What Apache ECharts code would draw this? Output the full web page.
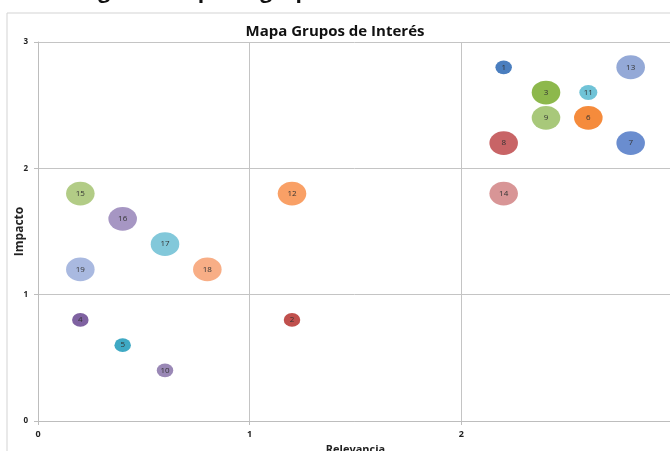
<!DOCTYPE html>
<html>
<head>
<meta charset="utf-8">
<script src="https://cdn.jsdelivr.net/npm/echarts@6/dist/echarts.min.js"></script>
<style>
  html, body { margin: 0; padding: 0; background: #fff; }
  #chart { width: 670px; height: 451px; }
</style>
</head>
<body>
<div id="chart"></div>
<script>
// grupos de interés: id, relevancia (x), impacto (y), tamaño de burbuja
var ids        = [1, 2, 3, 4, 5, 6, 7, 8, 9, 10, 11, 12, 13, 14, 15, 16, 17, 18, 19];
var relevancia = [2.2, 1.2, 2.4, 0.2, 0.4, 2.6, 2.8, 2.2, 2.4, 0.6, 2.6, 1.2, 2.8, 2.2, 0.2, 0.4, 0.6, 0.8, 0.2];
var impacto    = [2.8, 0.8, 2.6, 0.8, 0.6, 2.4, 2.2, 2.2, 2.4, 0.4, 2.6, 1.8, 2.8, 1.8, 1.8, 1.6, 1.4, 1.2, 1.2];
var tamano     = [1, 1, 3, 1, 1, 3, 3, 3, 3, 1, 1.2, 3, 3, 3, 3, 3, 3, 3, 3];
var xTicks = [0, 1, 2, 3];
var yTicks = [0, 1, 2, 3];

// colores tipo Excel (variar colores por punto)
var colores = ['#4a7ebf', '#c0504d', '#8db84c', '#7f62a1', '#3fa9c4', '#f58b3c',
               '#6a8dcf', '#c86466', '#a8c87a', '#9a88b6', '#70c3d7', '#f9a066',
               '#94a9d7', '#d89596', '#b2cc86', '#a696c3', '#82c8da', '#f8ae86', '#a9b9e0'];

var puntos = ids.map(function (id, i) {
  return {
    value: [relevancia[i], impacto[i], tamano[i]],
    name: String(id),
    itemStyle: { color: colores[i] }
  };
});

var myChart = echarts.init(document.getElementById('chart'));
var option = {
  animation: false,
  backgroundColor: '#fff',
  title: {
    text: 'Mapa Grupos de Interés',
    left: 'center',
    top: 19,
    textStyle: { fontFamily: 'Open Sans', fontWeight: 'bold', fontSize: 15, color: '#111' }
  },
  graphic: [
    {
      type: 'rect',
      shape: { x: 7, y: 13, width: 700, height: 480 },
      style: { fill: 'none', stroke: '#d3d3d3', lineWidth: 1 },
      silent: true
    },
    {
      type: 'text',
      left: 58,
      top: -18,
      style: {
        text: 'Imagen 1. Mapa de grupos de interés',
        font: 'bold 21px "Open Sans"',
        fill: '#111'
      },
      silent: true
    }
  ],
  grid: { left: 38, right: -3, top: 42, bottom: 30, outerBoundsMode: 'none', containLabel: false },
  xAxis: {
    type: 'value',
    min: xTicks[0],
    max: xTicks[xTicks.length - 1],
    interval: 1,
    name: 'Relevancia',
    nameLocation: 'middle',
    nameGap: 22,
    nameTextStyle: { fontFamily: 'Open Sans', fontWeight: 'bold', fontSize: 11, color: '#222' },
    axisLine: { show: true, lineStyle: { color: '#bdbdbd' } },
    axisTick: { show: true, length: 4, lineStyle: { color: '#bdbdbd' } },
    axisLabel: { margin: 9, fontFamily: 'Open Sans', fontWeight: 'bold', fontSize: 9, color: '#222' },
    splitLine: { show: true, lineStyle: { color: '#c4c4c4', width: 1 } }
  },
  yAxis: {
    type: 'value',
    min: yTicks[0],
    max: yTicks[yTicks.length - 1],
    interval: 1,
    name: 'Impacto',
    nameLocation: 'middle',
    nameRotate: 90,
    nameGap: 12,
    nameMoveOverlap: false,
    nameTextStyle: { fontFamily: 'Open Sans', fontWeight: 'bold', fontSize: 12, color: '#222' },
    axisLine: { show: true, lineStyle: { color: '#bdbdbd' } },
    axisTick: { show: true, length: 4, lineStyle: { color: '#bdbdbd' } },
    axisLabel: { margin: 10, fontFamily: 'Open Sans', fontWeight: 'bold', fontSize: 8, color: '#222' },
    splitLine: { show: true, lineStyle: { color: '#c4c4c4', width: 1 } }
  },
  series: [{
    type: 'scatter',
    data: puntos,
    // área proporcional al tamaño, burbuja algo achatada como en Excel
    symbolSize: function (val) {
      var w = 16.5 * Math.sqrt(val[2]);
      return [w, w / 1.2];
    },
    label: {
      show: true,
      position: 'inside',
      formatter: '{b}',
      fontFamily: 'Open Sans',
      fontSize: 8,
      color: '#333'
    },
    itemStyle: { opacity: 1 }
  }]
};
myChart.setOption(option);
</script>
</body>
</html>
